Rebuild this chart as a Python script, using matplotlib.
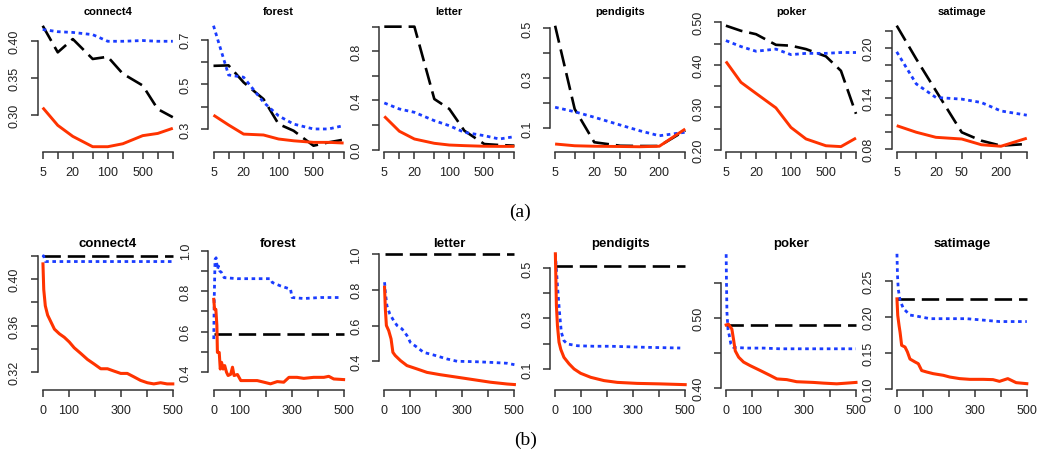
import matplotlib
matplotlib.use("Agg")
import matplotlib.pyplot as plt

plt.rcParams['font.family'] = ['Liberation Sans', 'DejaVu Sans']
plt.rcParams['lines.scale_dashes'] = False

datasets = ["connect4", "forest", "letter", "pendigits", "poker", "satimage"]

# ---- row (a): error vs. size (log x) ----
size_long = [5, 10, 20, 50, 100, 200, 500, 1000, 2000]
size_short = [5, 10, 20, 50, 100, 200, 500]

top_red = {
    "connect4": [0.310, 0.286, 0.271, 0.257, 0.257, 0.261, 0.272, 0.275, 0.282],
    "forest": [0.362, 0.318, 0.277, 0.273, 0.255, 0.247, 0.240, 0.240, 0.237],
    "letter": [0.271, 0.150, 0.087, 0.052, 0.038, 0.033, 0.028, 0.027, 0.027],
    "pendigits": [0.036, 0.029, 0.027, 0.026, 0.025, 0.027, 0.096],
    "poker": [0.408, 0.359, 0.333, 0.299, 0.253, 0.226, 0.210, 0.208, 0.228],
    "satimage": [0.1076, 0.0998, 0.0938, 0.0918, 0.0850, 0.0832, 0.0927],
}
top_black = {
    "connect4": [0.421, 0.385, 0.403, 0.376, 0.379, 0.356, 0.340, 0.308, 0.297],
    "forest": [0.583, 0.585, 0.509, 0.434, 0.322, 0.292, 0.225, 0.240, 0.252],
    "letter": [1.0, 1.0, 1.0, 0.412, 0.331, 0.154, 0.046, 0.038, 0.033],
    "pendigits": [0.509, 0.176, 0.043, 0.029, 0.028, 0.028, 0.090],
    "poker": [0.492, 0.480, 0.472, 0.447, 0.445, 0.437, 0.420, 0.386, 0.285],
    "satimage": [0.226, 0.1865, 0.149, 0.0997, 0.0898, 0.0839, 0.0859],
}
top_blue = {
    "connect4": [0.416, 0.413, 0.412, 0.409, 0.400, 0.400, 0.401, 0.400, 0.400],
    "forest": [0.763, 0.542, 0.532, 0.420, 0.359, 0.322, 0.300, 0.300, 0.315],
    "letter": [0.380, 0.331, 0.304, 0.236, 0.195, 0.141, 0.114, 0.087, 0.106],
    "pendigits": [0.183, 0.165, 0.143, 0.112, 0.089, 0.069, 0.083],
    "poker": [0.457, 0.443, 0.432, 0.437, 0.424, 0.427, 0.427, 0.429, 0.429],
    "satimage": [0.195, 0.157, 0.141, 0.139, 0.135, 0.125, 0.120],
}

# ---- row (b): error vs. number of trees ----
trees_range = [1, 500]
bottom_black = {"connect4": 0.420, "forest": 0.587, "letter": 1.0,
                "pendigits": 0.507, "poker": 0.490, "satimage": 0.225}

bottom_red_x = {
    "connect4": [1, 4, 10, 19, 32, 45, 64, 83, 102, 121, 147, 172, 198, 223, 249,
                 274, 300, 325, 351, 376, 402, 427, 453, 478, 500],
    "forest": [1, 4, 9, 13, 15, 22, 26, 31, 37, 43, 50, 56, 66, 73, 79, 92, 105,
               130, 168, 194, 219, 245, 270, 290, 321, 347, 385, 424, 443, 462, 500],
    "letter": [1, 4, 8, 17, 26, 33, 42, 62, 87, 126, 164, 215, 280, 344, 408, 472, 500],
    "pendigits": [1, 3, 5, 9, 15, 22, 34, 54, 73, 98, 137, 188, 239, 315, 404, 500],
    "poker": [1, 10, 23, 29, 36, 49, 68, 93, 132, 170, 196, 234, 272, 336, 375,
              426, 464, 500],
    "satimage": [1, 4, 9, 13, 19, 32, 41, 51, 70, 83, 96, 115, 140, 179, 204, 242,
                 281, 332, 370, 395, 427, 459, 500],
}
bottom_red_y = {
    "connect4": [0.413, 0.391, 0.377, 0.369, 0.363, 0.357, 0.353, 0.350, 0.346,
                 0.341, 0.336, 0.331, 0.327, 0.323, 0.323, 0.321, 0.319, 0.319,
                 0.316, 0.313, 0.311, 0.310, 0.311, 0.310, 0.310],
    "forest": [0.760, 0.711, 0.711, 0.630, 0.498, 0.498, 0.416, 0.449, 0.416, 0.433,
               0.400, 0.384, 0.390, 0.425, 0.384, 0.389, 0.359, 0.359, 0.359, 0.351,
               0.343, 0.354, 0.351, 0.375, 0.375, 0.370, 0.375, 0.375, 0.380, 0.367,
               0.364],
    "letter": [0.814, 0.693, 0.600, 0.571, 0.525, 0.450, 0.432, 0.404, 0.376, 0.357,
               0.338, 0.325, 0.311, 0.297, 0.283, 0.273, 0.270],
    "pendigits": [0.556, 0.457, 0.351, 0.272, 0.206, 0.177, 0.146, 0.120, 0.100,
                  0.083, 0.067, 0.054, 0.047, 0.043, 0.041, 0.038],
    "poker": [0.490, 0.491, 0.484, 0.470, 0.453, 0.444, 0.437, 0.432, 0.425, 0.418,
              0.413, 0.412, 0.409, 0.408, 0.407, 0.406, 0.407, 0.408],
    "satimage": [0.2255, 0.2025, 0.1886, 0.179, 0.161, 0.1586, 0.152, 0.142, 0.138,
                 0.1355, 0.126, 0.124, 0.1217, 0.1194, 0.117, 0.1148, 0.1138, 0.1138,
                 0.1134, 0.111, 0.1148, 0.1092, 0.1078],
}
bottom_blue_x = {
    "connect4": [1, 3, 6, 10, 500],
    "forest": [1, 3, 6, 10, 15, 19, 24, 31, 41, 92, 219, 226, 258, 296, 302, 347, 411, 487],
    "letter": [1, 4, 10, 21, 36, 49, 68, 87, 100, 126, 151, 190, 241, 280, 344, 408, 472, 500],
    "pendigits": [1, 4, 9, 13, 18, 24, 34, 47, 86, 149, 213, 341, 481],
    "poker": [1, 2, 4, 8, 13, 19, 29, 81, 145, 208, 336, 500],
    "satimage": [1, 3, 6, 13, 26, 51, 77, 128, 204, 268, 332, 395, 500],
}
bottom_blue_y = {
    "connect4": [0.419, 0.420, 0.418, 0.415, 0.415],
    "forest": [0.564, 0.777, 0.957, 0.965, 0.908, 0.924, 0.900, 0.892, 0.867, 0.862,
               0.862, 0.843, 0.826, 0.810, 0.769, 0.764, 0.769, 0.769],
    "letter": [0.842, 0.786, 0.711, 0.665, 0.627, 0.600, 0.581, 0.544, 0.506, 0.478,
               0.450, 0.435, 0.413, 0.400, 0.398, 0.394, 0.389, 0.381],
    "pendigits": [0.556, 0.510, 0.430, 0.377, 0.311, 0.245, 0.212, 0.199, 0.192,
                  0.190, 0.190, 0.186, 0.183],
    "poker": [0.591, 0.556, 0.508, 0.484, 0.475, 0.463, 0.458, 0.457, 0.457, 0.456,
              0.456, 0.456],
    "satimage": [0.288, 0.258, 0.239, 0.223, 0.212, 0.203, 0.2015, 0.198, 0.198,
                 0.198, 0.196, 0.194, 0.194],
}

# ---- axis ticks ----
top_xlab_long = ["5", "", "20", "", "100", "", "500", "", ""]
top_xlab_short = ["5", "", "20", "50", "", "200", ""]
top_yticks = {
    "connect4": ([0.30, 0.35, 0.40], ["0.30", "0.35", "0.40"]),
    "forest": ([0.3, 0.4, 0.5, 0.6, 0.7], ["0.3", "", "0.5", "", "0.7"]),
    "letter": ([0.0, 0.2, 0.4, 0.6, 0.8, 1.0], ["0.0", "", "0.4", "", "0.8", ""]),
    "pendigits": ([0.1, 0.2, 0.3, 0.4, 0.5], ["0.1", "", "0.3", "", "0.5"]),
    "poker": ([0.20, 0.25, 0.30, 0.35, 0.40, 0.45, 0.50],
              ["0.20", "", "0.30", "", "0.40", "", "0.50"]),
    "satimage": ([0.08, 0.10, 0.12, 0.14, 0.16, 0.18, 0.20, 0.22],
                 ["0.08", "", "", "0.14", "", "", "0.20", ""]),
}
bottom_xticks = [0, 100, 200, 300, 400, 500]
bottom_xlab = ["0", "100", "", "300", "", "500"]
bottom_yticks = {
    "connect4": ([0.32, 0.34, 0.36, 0.38, 0.40, 0.42], ["0.32", "", "0.36", "", "0.40", ""]),
    "forest": ([0.4, 0.5, 0.6, 0.7, 0.8, 0.9, 1.0], ["0.4", "", "0.6", "", "0.8", "", "1.0"]),
    "letter": ([0.4, 0.6, 0.8, 1.0], ["0.4", "0.6", "0.8", "1.0"]),
    "pendigits": ([0.1, 0.2, 0.3, 0.4, 0.5], ["0.1", "", "0.3", "", "0.5"]),
    "poker": ([0.40, 0.45, 0.50, 0.55], ["0.40", "", "0.50", ""]),
    "satimage": ([0.10, 0.15, 0.20, 0.25], ["0.10", "0.15", "0.20", "0.25"]),
}

# y limits per panel (matched to the reference layout)
top_ylim = {"connect4": (0.2505, 0.4275), "forest": (0.199, 0.784),
            "letter": (-0.0146, 1.046), "pendigits": (0.006, 0.528),
            "poker": (0.1965, 0.503), "satimage": (0.077, 0.2315)}
bottom_ylim = {"connect4": (0.3052, 0.4249), "forest": (0.315, 1.0035),
               "letter": (0.2423, 1.022), "pendigits": (0.0188, 0.571),
               "poker": (0.3979, 0.597), "satimage": (0.0997, 0.2933)}

RED = "#FF3300"
BLUE = "#1A3CFF"
BLACK = "black"
AXC = "#333333"
LONGDASH = (12.5, 5.0)
DOTS = (2.6, 2.6)

W, H = 1037, 456


def r_axes(ax, xticks, xlabels, yticks, ylabels):
    # R style: no box, axis lines only between first and last tick
    for s in ["top", "right"]:
        ax.spines[s].set_visible(False)
    for s in ["left", "bottom"]:
        ax.spines[s].set_color(AXC)
        ax.spines[s].set_linewidth(1.1)
    ax.spines["bottom"].set_bounds(xticks[0], xticks[-1])
    ax.spines["left"].set_bounds(yticks[0], yticks[-1])
    ax.set_xticks(xticks)
    ax.set_xticklabels(xlabels)
    ax.minorticks_off()
    ax.set_yticks(yticks)
    ax.set_yticklabels(ylabels)
    ax.tick_params(axis="both", length=5, width=1.1, color=AXC,
                   labelsize=9, labelcolor="#222222")
    ax.tick_params(axis="x", pad=5.5)
    ax.tick_params(axis="y", pad=7, labelrotation=90)
    for lab in ax.get_yticklabels():
        lab.set_verticalalignment("center")
    ax.patch.set_visible(False)


fig = plt.figure(figsize=(W / 100, H / 100), dpi=100)

for i, name in enumerate(datasets):
    left = 37.5 + 170.8 * i
    width = 140.5

    # ---- top row ----
    ax = fig.add_axes([left / W, 1 - 152.5 / H, width / W, 130.5 / H])
    ax.set_xscale("log")
    if len(top_red[name]) == len(size_long):
        xs, xlab = size_long, top_xlab_long
    else:
        xs, xlab = size_short, top_xlab_short
    ax.plot(xs, top_black[name], color=BLACK, lw=1.9, dashes=LONGDASH)
    ax.plot(xs, top_blue[name], color=BLUE, lw=2.0, dashes=DOTS,
            dash_capstyle="butt")
    ax.plot(xs, top_red[name], color=RED, lw=2.1, solid_capstyle="butt")
    lo, hi = xs[0], xs[-1]
    r = (hi / lo) ** 0.04
    ax.set_xlim(lo / r, hi * r)
    ax.set_ylim(*top_ylim[name])
    r_axes(ax, xs, xlab, *top_yticks[name])
    fig.text((left + width / 2) / W, 1 - 12 / H, name, ha="center", va="center",
             fontsize=8, fontweight="bold")

    # ---- bottom row ----
    ax = fig.add_axes([left / W, 1 - 390.5 / H, width / W, 139.5 / H])
    ax.plot(trees_range, [bottom_black[name]] * 2, color=BLACK, lw=1.9,
            dashes=LONGDASH)
    ax.plot(bottom_blue_x[name], bottom_blue_y[name], color=BLUE, lw=2.0,
            dashes=DOTS, dash_capstyle="butt")
    ax.plot(bottom_red_x[name], bottom_red_y[name], color=RED, lw=2.2)
    ax.set_xlim(-20, 520)
    ax.set_ylim(*bottom_ylim[name])
    r_axes(ax, bottom_xticks, bottom_xlab, *bottom_yticks[name])
    fig.text((left + width / 2) / W, 1 - 244 / H, name, ha="center", va="center",
             fontsize=9.5, fontweight="bold")

fig.text(520 / W, 1 - 212 / H, "(a)", ha="center", va="center", fontsize=14,
         family=["Liberation Serif", "DejaVu Serif"])
fig.text(526 / W, 1 - 440 / H, "(b)", ha="center", va="center", fontsize=14,
         family=["Liberation Serif", "DejaVu Serif"])

fig.savefig("out.png", dpi=100)
